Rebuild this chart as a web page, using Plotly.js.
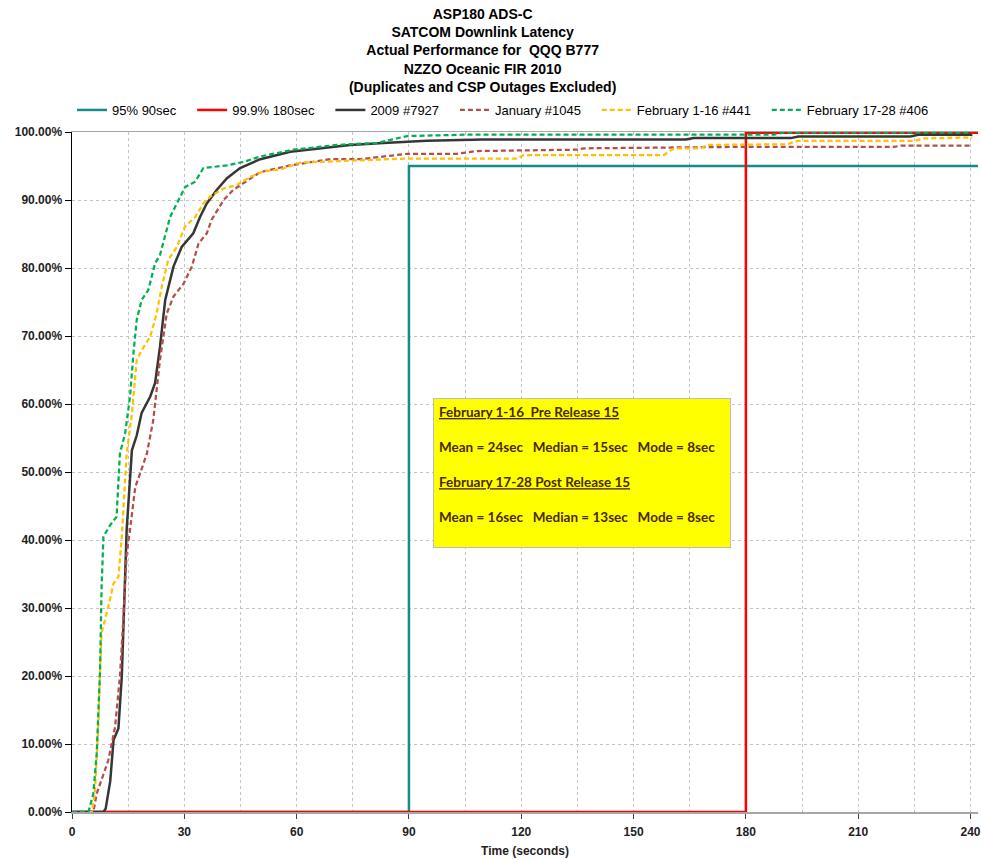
<!DOCTYPE html>
<html>
<head>
<meta charset="utf-8">
<script src="https://cdn.plot.ly/plotly-3.0.1.min.js"></script>
<style>html,body{margin:0;padding:0;background:#fff;}#chart{width:981px;height:859px;}</style>
</head>
<body>
<div id="chart"></div>
<script>
// ---- data (time in seconds, cumulative percentage) ----
const seriesNames = ["95% 90sec", "99.9% 180sec", "2009 #7927", "January #1045", "February 1-16 #441", "February 17-28 #406"];

const req95T = [0, 90, 90, 242];
const req95P = [0, 0, 95, 95];

const req999T = [0, 180, 180, 242];
const req999P = [0, 0, 99.9, 99.9];

const y2009T = [0, 8.4, 9.0, 10.2, 11.1, 12.4, 13.3, 14.6, 16.0, 17.3, 18.6, 20.9, 22.2, 23.5, 24.9, 27.1, 29.3, 32.4, 34.2, 36.0, 38.7, 41.4, 44.9, 50.3, 58.3, 66.0, 74.3, 83.2, 94.8, 109.9, 164.0, 166.0, 192.0, 194.0, 224.0, 226.0, 240.5];
const y2009P = [0, 0, 0.5, 4.5, 10.6, 12.3, 19.9, 41.5, 53.2, 55.4, 58.7, 61.1, 63.1, 68.4, 75.3, 80.2, 83.1, 85.1, 87.5, 89.5, 91.5, 93.2, 94.7, 96.0, 97.1, 97.6, 98.1, 98.4, 98.7, 98.9, 98.9, 99.1, 99.1, 99.35, 99.35, 99.6, 99.6];

const janT = [0, 5.7, 6.6, 7.9, 9.7, 11.5, 12.8, 13.7, 14.6, 15.5, 16.9, 18.2, 20.0, 21.7, 23.5, 25.3, 27.1, 29.8, 32.0, 33.8, 36.0, 37.3, 40.5, 43.1, 45.8, 48.5, 50.3, 58.3, 69.0, 77.0, 83.2, 89.5, 102.8, 108.2, 134.9, 136.7, 175.9, 219.6, 221.4, 240.5];
const janP = [0, 0, 2.7, 4.7, 7.6, 12.5, 19.9, 28.2, 38.0, 41.5, 47.8, 49.8, 52.7, 57.6, 66.5, 73.3, 75.8, 77.7, 80.2, 83.6, 85.1, 87.1, 90.0, 91.5, 92.5, 93.4, 94.1, 95.1, 96.0, 96.0, 96.4, 96.8, 96.8, 97.2, 97.4, 97.6, 97.8, 97.8, 98.0, 98.0];

const feb1T = [0, 5.3, 6.1, 7.0, 7.5, 7.9, 9.7, 11.1, 12.4, 13.3, 14.6, 16.0, 17.3, 18.6, 20.9, 22.6, 24.0, 25.7, 28.0, 30.2, 32.9, 35.1, 36.9, 40.5, 44.0, 47.6, 51.1, 55.6, 61.0, 74.3, 81.5, 89.5, 118.9, 120.7, 158.1, 160.8, 168.0, 169.7, 191.1, 193.8, 225.0, 227.6, 240.5];
const feb1P = [0, 0, 2.7, 12.5, 20.9, 26.3, 30.2, 33.6, 34.6, 40.5, 52.7, 58.6, 66.5, 67.9, 69.9, 73.3, 77.3, 81.2, 83.1, 86.1, 87.5, 89.5, 90.5, 91.7, 92.2, 93.4, 94.2, 94.5, 95.5, 95.8, 96.0, 96.1, 96.1, 96.6, 96.6, 97.6, 97.6, 98.1, 98.2, 98.7, 98.7, 99.05, 99.2];

const feb2T = [0, 4.4, 5.7, 6.6, 7.5, 7.9, 8.4, 10.2, 11.9, 12.8, 14.2, 15.5, 16.4, 17.3, 18.6, 20.4, 22.2, 23.5, 26.2, 28.4, 30.2, 32.9, 35.1, 41.4, 45.8, 50.3, 59.2, 70.8, 81.5, 89.5, 104.6, 187.5, 190.0, 240.5];
const feb2P = [0, 0, 2.7, 8.6, 20.9, 33.1, 40.5, 42.2, 43.4, 52.7, 55.7, 61.1, 67.4, 72.4, 75.3, 76.8, 80.7, 81.9, 87.5, 90.0, 91.9, 92.7, 94.7, 95.1, 95.6, 96.4, 97.4, 98.1, 98.4, 99.4, 99.6, 99.6, 99.9, 99.9];

const xTicks = [0, 30, 60, 90, 120, 150, 180, 210, 240];

const titleLines = ["ASP180 ADS-C", "SATCOM Downlink Latency", "Actual Performance for\u00a0 QQQ B777", "NZZO Oceanic FIR 2010", "(Duplicates and CSP Outages Excluded)"];
const boxLines = [
  "<u>February 1-16\u00a0 Pre Release 15</u>",
  "",
  "Mean = 24sec\u00a0\u00a0 Median = 15sec\u00a0\u00a0 Mode = 8sec",
  "",
  "<u>February 17-28 Post Release 15</u>",
  "",
  "Mean = 16sec\u00a0\u00a0 Median = 13sec\u00a0\u00a0 Mode = 8sec"
];

// ---- styling ----
const colors = ["#178a8a", "#ff0000", "#363636", "#b54e4a", "#ffc000", "#00b050"];
const dashPat = "5px,3px";
const pad = "\u00a0\u00a0\u00a0";

const traces = [
  {x: req95T, y: req95P, name: seriesNames[0] + pad, line: {color: colors[0], width: 2.5}},
  {x: req999T, y: req999P, name: seriesNames[1] + pad, line: {color: colors[1], width: 2.5}},
  {x: y2009T, y: y2009P, name: seriesNames[2] + pad, line: {color: colors[2], width: 2.5}},
  {x: janT, y: janP, name: seriesNames[3] + pad, line: {color: colors[3], width: 2.25, dash: dashPat}},
  {x: feb1T, y: feb1P, name: seriesNames[4] + pad, line: {color: colors[4], width: 2.25, dash: dashPat}},
  {x: feb2T, y: feb2P, name: seriesNames[5], line: {color: colors[5], width: 2.25, dash: dashPat}}
].map(t => Object.assign({type: "scatter", mode: "lines", hoverinfo: "x+y+name"}, t));

const gridCol = "#c4c4c4";
const axisFont = {family: "Liberation Sans, Arial, sans-serif", size: 12, color: "#1e1e1e", weight: "bold"};

const layout = {
  width: 981, height: 859,
  margin: {l: 72, r: 3, t: 132, b: 47},
  paper_bgcolor: "#ffffff", plot_bgcolor: "#ffffff",
  font: {family: "Liberation Sans, Arial, sans-serif", color: "#000"},
  title: {
    text: "<b>" + titleLines.join("<br>") + "</b>",
    font: {family: "Liberation Sans, Arial, sans-serif", size: 14, color: "#000"},
    xref: "container", x: 0.492, xanchor: "center",
    yref: "container", y: 1 - 19 / 859, yanchor: "top"
  },
  showlegend: true,
  legend: {
    orientation: "h", xref: "container", yref: "container",
    x: 72 / 981, xanchor: "left", y: 1 - 95 / 859, yanchor: "top",
    font: {family: "Liberation Sans, Arial, sans-serif", size: 13, color: "#000"},
    itemwidth: 30, tracegroupgap: 0, bgcolor: "rgba(0,0,0,0)"
  },
  xaxis: {
    range: [0, 242], tickvals: xTicks, ticktext: xTicks.map(String),
    showgrid: true, gridcolor: gridCol, gridwidth: 1, griddash: "3px,3px",
    minor: {dtick: 15, tick0: 0, showgrid: true, gridcolor: gridCol, gridwidth: 1, griddash: "3px,3px", ticks: ""},
    ticks: "outside", ticklen: 5, tickcolor: "#404040", tickwidth: 1,
    tickfont: axisFont, ticklabelstandoff: 3,
    showline: true, linecolor: "#a6a6a6", linewidth: 1.5, mirror: true,
    zeroline: false,
    title: {text: "<b>Time (seconds)</b>", font: {family: "Liberation Sans, Arial, sans-serif", size: 12, color: "#1e1e1e"}, standoff: 8}
  },
  yaxis: {
    range: [0, 100], dtick: 10, tick0: 0, tickformat: ".2f", ticksuffix: "%",
    showgrid: true, gridcolor: gridCol, gridwidth: 1, griddash: "3px,3px",
    ticks: "outside", ticklen: 6, tickcolor: "#000", tickwidth: 1,
    tickfont: axisFont,
    showline: true, linecolor: "#000", linewidth: 1.5,
    zeroline: false
  },
  annotations: [{
    xref: "x", yref: "y", x: 136.1, y: 49.85,
    xanchor: "center", yanchor: "middle",
    text: "<b>" + boxLines.join("<br>") + "</b>",
    showarrow: false, align: "left", valign: "top",
    width: 286, height: 138,
    bgcolor: "#ffff00", bordercolor: "#bcbcbc", borderwidth: 1, borderpad: 5,
    font: {family: "Lato, Liberation Sans, sans-serif", size: 13.5, color: "#4a2a00"}
  }]
};

Plotly.newPlot("chart", traces, layout, {displayModeBar: false, staticPlot: true});
</script>
</body>
</html>
